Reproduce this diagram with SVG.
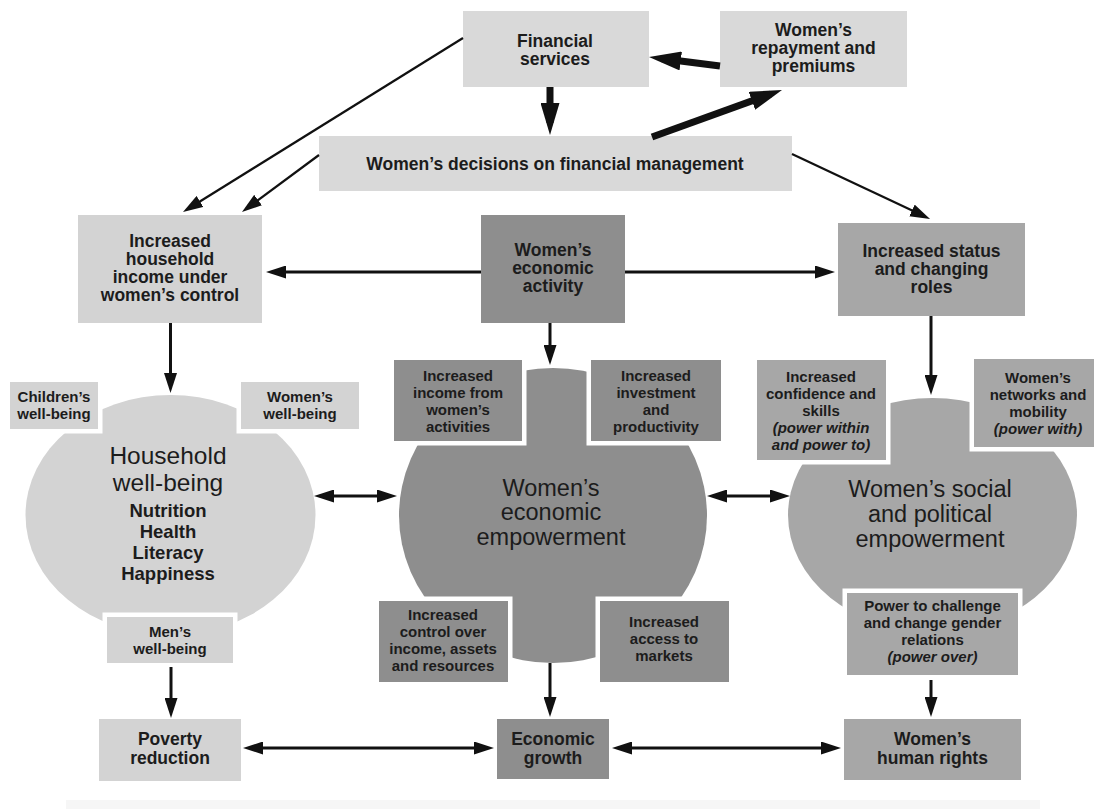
<svg xmlns="http://www.w3.org/2000/svg" width="1094" height="809" viewBox="0 0 1094 809">
  <style>
    text { font-family: "Liberation Sans", Arial, sans-serif; fill: #1c1c1c; text-anchor: middle; }
    .t { font-size: 17.5px; font-weight: bold; }
    .s { font-size: 15px; font-weight: bold; }
    .b { font-size: 17.5px; font-weight: bold; }
    .big { font-size: 24.5px; }
    .big2 { font-size: 23.5px; }
    .list { font-size: 18.5px; font-weight: bold; }
    .it { font-style: italic; }
    .light { fill: #d9d9d9; }
    .hh { fill: #d3d3d3; }
    .dark { fill: #8e8e8e; }
    .mid { fill: #a7a7a7; }
    .cut { stroke: #ffffff; stroke-width: 9; paint-order: stroke; }
    .ln { stroke: #111111; stroke-width: 3; fill: none; }
    .dg { stroke: #111111; stroke-width: 2.2; fill: none; }
    .thick { stroke: #111111; stroke-width: 7; fill: none; }
  </style>
  <defs>
    <marker id="ah" markerUnits="userSpaceOnUse" markerWidth="20" markerHeight="13" refX="12" refY="6.5" orient="auto-start-reverse">
      <path d="M0,0 L20,6.5 L0,13 z" fill="#111111"/>
    </marker>
    <marker id="ahk" markerUnits="userSpaceOnUse" markerWidth="32" markerHeight="19" refX="20" refY="9.5" orient="auto">
      <path d="M0,0 L32,9.5 L0,19 z" fill="#111111"/>
    </marker>
  </defs>

  <rect x="66" y="800" width="974" height="9" fill="#f6f6f6"/>

  <g id="financial-services">
    <rect class="light" x="463" y="11" width="186" height="76"/>
    <text class="t" x="555" y="47">Financial</text>
    <text class="t" x="555" y="65">services</text>
  </g>
  <g id="womens-repayment">
    <rect class="light" x="720" y="11" width="187" height="76"/>
    <text class="t" x="813.5" y="36">Women’s</text>
    <text class="t" x="813.5" y="54">repayment and</text>
    <text class="t" x="813.5" y="72">premiums</text>
  </g>
  <g id="womens-decisions">
    <rect class="light" x="319" y="136" width="473" height="55"/>
    <text class="t" x="555" y="170">Women’s decisions on financial management</text>
  </g>
  <g id="household-income">
    <rect class="hh" x="78" y="215" width="184" height="108"/>
    <text class="t" x="170" y="247">Increased</text>
    <text class="t" x="170" y="265">household</text>
    <text class="t" x="170" y="283">income under</text>
    <text class="t" x="170" y="301">women’s control</text>
  </g>
  <g id="economic-activity">
    <rect class="dark" x="481" y="215" width="144" height="108"/>
    <text class="t" x="553" y="256">Women’s</text>
    <text class="t" x="553" y="274">economic</text>
    <text class="t" x="553" y="292">activity</text>
  </g>
  <g id="status-roles">
    <rect class="mid" x="838" y="223" width="187" height="93"/>
    <text class="t" x="931.5" y="257">Increased status</text>
    <text class="t" x="931.5" y="275">and changing</text>
    <text class="t" x="931.5" y="293">roles</text>
  </g>

  <g id="household-wellbeing">
    <ellipse class="hh" cx="170.5" cy="515" rx="145" ry="120"/>
    <text class="big" x="168" y="464">Household</text>
    <text class="big" x="168" y="491">well-being</text>
    <text class="list" x="168" y="517">Nutrition</text>
    <text class="list" x="168" y="538">Health</text>
    <text class="list" x="168" y="559">Literacy</text>
    <text class="list" x="168" y="580">Happiness</text>
  </g>
  <g id="childrens-wellbeing">
    <rect class="hh cut" x="10" y="382" width="88" height="47"/>
    <text class="s" x="54" y="402">Children’s</text>
    <text class="s" x="54" y="419">well-being</text>
  </g>
  <g id="womens-wellbeing">
    <rect class="hh cut" x="241" y="382" width="118" height="47"/>
    <text class="s" x="300" y="402">Women’s</text>
    <text class="s" x="300" y="419">well-being</text>
  </g>
  <g id="mens-wellbeing">
    <rect class="hh cut" x="107" y="617" width="126" height="46"/>
    <text class="s" x="170" y="637">Men’s</text>
    <text class="s" x="170" y="654">well-being</text>
  </g>

  <g id="economic-empowerment">
    <ellipse class="dark" cx="553" cy="515.5" rx="154" ry="147.5"/>
    <text class="big2" x="551" y="496">Women’s</text>
    <text class="big2" x="551" y="520">economic</text>
    <text class="big2" x="551" y="545">empowerment</text>
  </g>
  <g id="income-activities">
    <rect class="dark cut" x="394" y="360" width="128" height="81"/>
    <text class="s" x="458" y="381">Increased</text>
    <text class="s" x="458" y="398">income from</text>
    <text class="s" x="458" y="415">women’s</text>
    <text class="s" x="458" y="432">activities</text>
  </g>
  <g id="investment-productivity">
    <rect class="dark cut" x="591" y="360" width="130" height="81"/>
    <text class="s" x="656" y="381">Increased</text>
    <text class="s" x="656" y="398">investment</text>
    <text class="s" x="656" y="415">and</text>
    <text class="s" x="656" y="432">productivity</text>
  </g>
  <g id="control-resources">
    <rect class="dark cut" x="379" y="601" width="129" height="81"/>
    <text class="s" x="443" y="620">Increased</text>
    <text class="s" x="443" y="637">control over</text>
    <text class="s" x="443" y="654">income, assets</text>
    <text class="s" x="443" y="671">and resources</text>
  </g>
  <g id="access-markets">
    <rect class="dark cut" x="600" y="601" width="129" height="81"/>
    <text class="s" x="664" y="627">Increased</text>
    <text class="s" x="664" y="644">access to</text>
    <text class="s" x="664" y="661">markets</text>
  </g>

  <g id="social-political-empowerment">
    <ellipse class="mid" cx="932.5" cy="515" rx="144.5" ry="117"/>
    <text class="big2" x="930" y="497">Women’s social</text>
    <text class="big2" x="930" y="522">and political</text>
    <text class="big2" x="930" y="547">empowerment</text>
  </g>
  <g id="confidence-skills">
    <rect class="mid cut" x="757" y="360" width="129" height="100"/>
    <text class="s" x="821" y="382">Increased</text>
    <text class="s" x="821" y="399">confidence and</text>
    <text class="s" x="821" y="416">skills</text>
    <text class="s it" x="821" y="433">(power within</text>
    <text class="s it" x="821" y="450">and power to)</text>
  </g>
  <g id="networks-mobility">
    <rect class="mid cut" x="974" y="359" width="128" height="88"/>
    <text class="s" x="1038" y="383">Women’s</text>
    <text class="s" x="1038" y="400">networks and</text>
    <text class="s" x="1038" y="417">mobility</text>
    <text class="s it" x="1038" y="434">(power with)</text>
  </g>
  <g id="power-challenge">
    <rect class="mid cut" x="847" y="593" width="171" height="82"/>
    <text class="s" x="932.5" y="611">Power to challenge</text>
    <text class="s" x="932.5" y="628">and change gender</text>
    <text class="s" x="932.5" y="645">relations</text>
    <text class="s it" x="932.5" y="662">(power over)</text>
  </g>

  <g id="poverty-reduction">
    <rect class="hh" x="99" y="719" width="142" height="62"/>
    <text class="b" x="170" y="745">Poverty</text>
    <text class="b" x="170" y="764">reduction</text>
  </g>
  <g id="economic-growth">
    <rect class="dark" x="497" y="719" width="112" height="60"/>
    <text class="b" x="553" y="745">Economic</text>
    <text class="b" x="553" y="764">growth</text>
  </g>
  <g id="human-rights">
    <rect class="mid" x="844" y="719" width="177" height="61"/>
    <text class="b" x="932.5" y="745">Women’s</text>
    <text class="b" x="932.5" y="764">human rights</text>
  </g>

  <g id="connectors">
    <line class="dg" x1="463" y1="38" x2="189.8" y2="207.8" marker-end="url(#ah)"/>
    <line class="dg" x1="319" y1="155" x2="248.4" y2="207.2" marker-end="url(#ah)"/>
    <line class="dg" x1="792" y1="154" x2="922.8" y2="215.6" marker-end="url(#ah)"/>
    <line class="thick" x1="550" y1="87" x2="550" y2="123" marker-end="url(#ahk)"/>
    <line class="thick" x1="720" y1="66" x2="660.9" y2="58.5" marker-end="url(#ahk)"/>
    <line class="thick" x1="652" y1="137" x2="770.7" y2="94" marker-end="url(#ahk)"/>
    <line class="ln" x1="481" y1="272" x2="274" y2="272" marker-end="url(#ah)"/>
    <line class="ln" x1="625" y1="272" x2="827" y2="272" marker-end="url(#ah)"/>
    <line class="ln" x1="170.5" y1="323" x2="170.5" y2="385" marker-end="url(#ah)"/>
    <line class="ln" x1="550" y1="323" x2="550" y2="357" marker-end="url(#ah)"/>
    <line class="ln" x1="931" y1="316" x2="931" y2="387" marker-end="url(#ah)"/>
    <line class="ln" x1="322" y1="496" x2="389" y2="496" marker-start="url(#ah)" marker-end="url(#ah)"/>
    <line class="ln" x1="715" y1="496" x2="782" y2="496" marker-start="url(#ah)" marker-end="url(#ah)"/>
    <line class="ln" x1="171" y1="667" x2="171" y2="710" marker-end="url(#ah)"/>
    <line class="ln" x1="550" y1="663" x2="550" y2="709" marker-end="url(#ah)"/>
    <line class="ln" x1="931" y1="680" x2="931" y2="709" marker-end="url(#ah)"/>
    <line class="ln" x1="251" y1="748" x2="486" y2="748" marker-start="url(#ah)" marker-end="url(#ah)"/>
    <line class="ln" x1="620" y1="748" x2="833" y2="748" marker-start="url(#ah)" marker-end="url(#ah)"/>
  </g>
</svg>
